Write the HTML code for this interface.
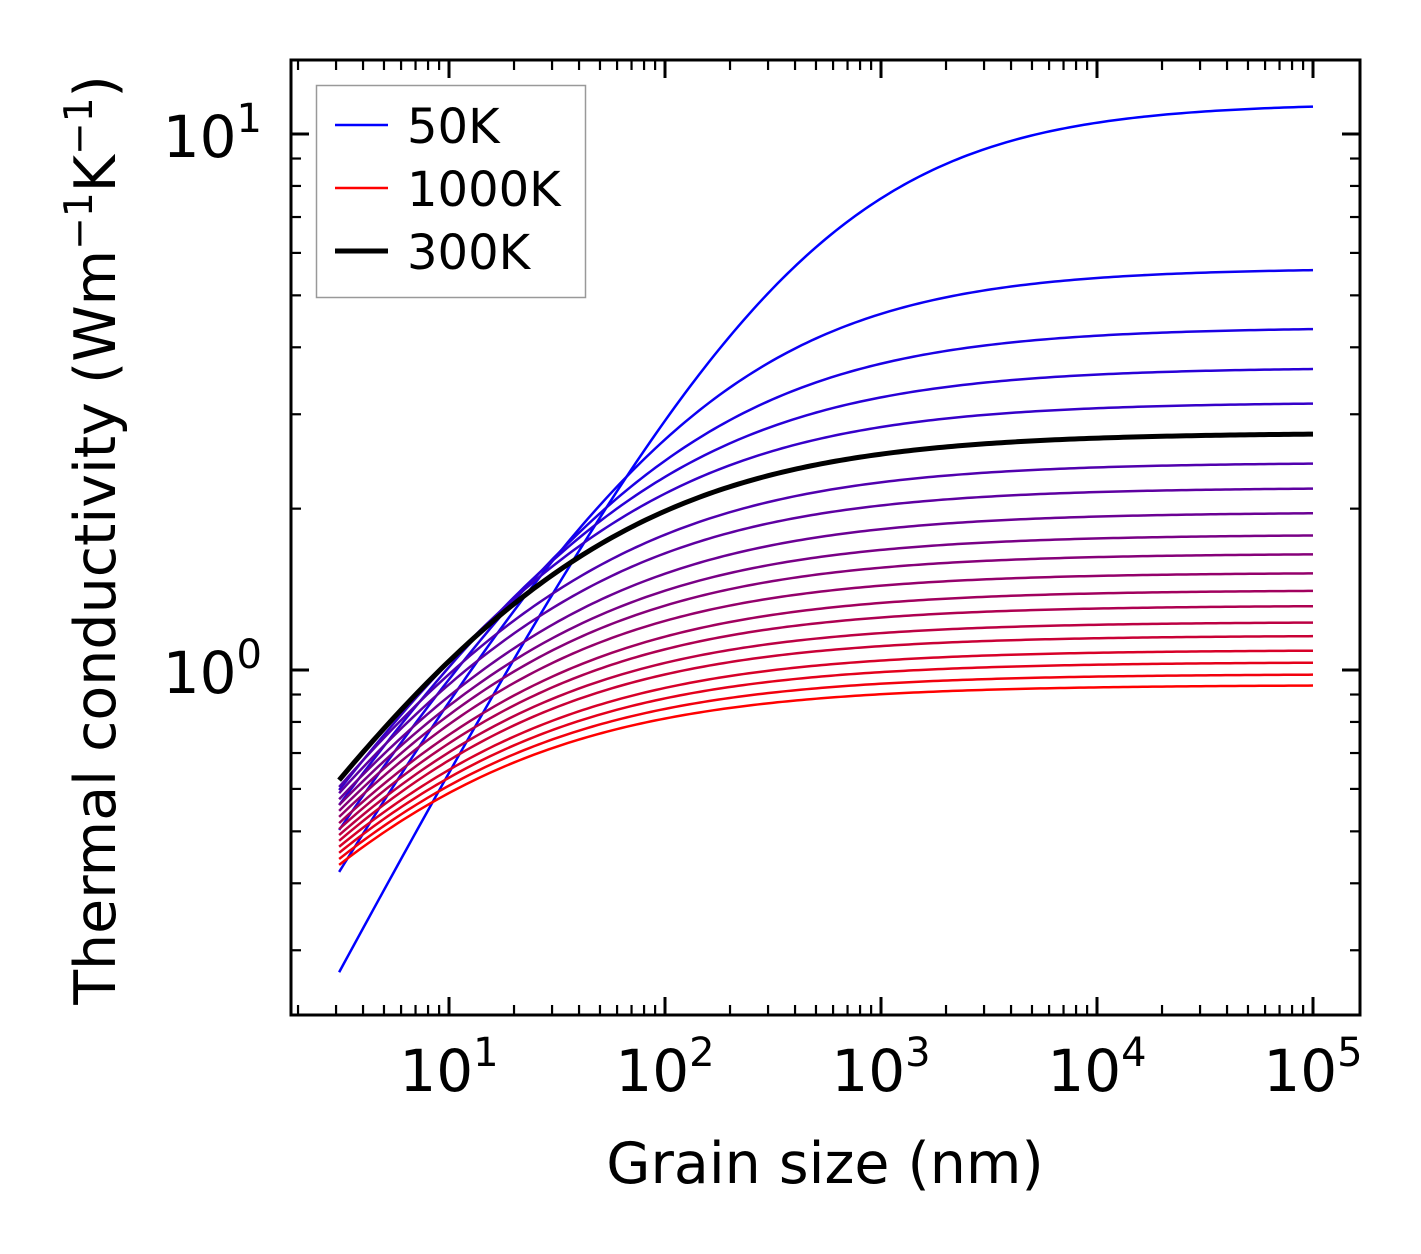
<!DOCTYPE html>
<html><head><meta charset="utf-8"><style>
html,body{margin:0;padding:0;background:#fff;}
svg{display:block;font-family:"DejaVu Sans","Liberation Sans",sans-serif;}
</style></head><body>
<svg id="chart" width="1421" height="1254" viewBox="0 0 1421 1254" xmlns="http://www.w3.org/2000/svg">
<rect x="0" y="0" width="1421" height="1254" fill="#fff"/>
<defs><clipPath id="clip"><rect x="291" y="60" width="1069" height="955"/></clipPath></defs>
<g id="series" clip-path="url(#clip)"></g>
<g id="axes"></g>
<text x="825" y="1183" font-size="57" text-anchor="middle">Grain size (nm)</text>
<text transform="translate(115,540) rotate(-90)" font-size="57" text-anchor="middle">Thermal conductivity (Wm<tspan font-size="39" dy="-23">−1</tspan><tspan dy="23">K</tspan><tspan font-size="39" dy="-23">−1</tspan><tspan dy="23">)</tspan></text>
<g>
<rect x="316.5" y="85.5" width="269" height="212" fill="#fff" stroke="#999" stroke-width="1.5"/>
<line x1="335" y1="125" x2="388" y2="125" stroke="#0000ff" stroke-width="2.5"/>
<text x="407" y="143" font-size="48">50K</text>
<line x1="335" y1="188" x2="388" y2="188" stroke="#ff0000" stroke-width="2.5"/>
<text x="407" y="206" font-size="48">1000K</text>
<line x1="335" y1="251" x2="388" y2="251" stroke="#000" stroke-width="5"/>
<text x="407" y="269" font-size="48">300K</text>
</g>
</svg>
<script>
const temps = [50,100,150,200,250,300,350,400,450,500,550,600,650,700,750,800,850,900,950,1000];
const kInf = [11.42,5.62,4.36,3.67,3.16,2.77,2.44,2.19,1.97,1.79,1.65,1.52,1.41,1.32,1.23,1.16,1.09,1.035,0.983,0.938];
const kStart = [0.273,0.42,0.503,0.56,0.597,0.623,0.605,0.589,0.574,0.56,0.546,0.532,0.518,0.505,0.492,0.48,0.468,0.456,0.444,0.433];
const pExp = [0.76,0.70,0.66,0.64,0.63,0.62,0.61,0.61,0.60,0.60,0.60,0.60,0.59,0.59,0.59,0.59,0.58,0.58,0.58,0.58];
const grainStart = 3.1;
const grainEnd = 1e5;
const xTickLabels = ["1","2","3","4","5"];
const yTickLabels = ["0","1"];

const NS = "http://www.w3.org/2000/svg";
const X0 = 291, X1 = 1360, Y0 = 60, Y1 = 1015;
const xLogMin = 1 - (449 - X0) / 216, xLogMax = 1 + (X1 - 449) / 216;
const yLogMin = -(Y1 - 670) / 536, yLogMax = (670 - Y0) / 536;
function xs(v){ return X0 + (Math.log10(v) - xLogMin) / (xLogMax - xLogMin) * (X1 - X0); }
function ys(v){ return Y1 - (Math.log10(v) - yLogMin) / (yLogMax - yLogMin) * (Y1 - Y0); }
function mk(tag, attrs, parent){ const e = document.createElementNS(NS, tag); for (const k in attrs) e.setAttribute(k, attrs[k]); parent.appendChild(e); return e; }

const sg = document.getElementById('series');
const order = temps.map((t,i)=>i).filter(i=>temps[i]!==300).concat(temps.indexOf(300));
order.forEach(i=>{
  const r = kStart[i] / kInf[i];
  const p = pExp[i];
  const lam = grainStart * Math.pow(1/r - 1, 1/p);
  let d = "";
  const N = 200;
  for (let j=0;j<=N;j++){
    const L = Math.pow(10, Math.log10(grainStart) + j/N*(Math.log10(grainEnd)-Math.log10(grainStart)));
    const k = kInf[i] / (1 + Math.pow(lam/L, p));
    d += (j?"L":"M") + xs(L).toFixed(2) + "," + ys(k).toFixed(2);
  }
  const f = i/(temps.length-1);
  const col = temps[i]===300 ? "#000" : `rgb(${Math.round(255*f)},0,${Math.round(255*(1-f))})`;
  const path = mk('path', {d:d, fill:'none', stroke:col, 'stroke-width': temps[i]===300 ? 5 : 2.5, 'stroke-linejoin':'round'}, sg);
  
  
});

const ax = document.getElementById('axes');
const frame = mk('rect', {x:X0, y:Y0, width:X1-X0, height:Y1-Y0, fill:'none', stroke:'#000', 'stroke-width':3}, ax);



for (let dec=0; dec<=5; dec++){
  for (let m=1; m<=9; m++){
    const v = m*Math.pow(10,dec);
    const x = xs(v);
    if (x < X0+1 || x > X1-1) continue;
    const len = m===1 ? 18 : 10;
    const t1 = mk('line', {x1:x, y1:Y1, x2:x, y2:Y1-len, stroke:'#000', 'stroke-width': m===1?3:2.2}, ax);
    
    
    const t2 = mk('line', {x1:x, y1:Y0, x2:x, y2:Y0+len, stroke:'#000', 'stroke-width': m===1?3:2.2}, ax);
    
    
  }
}
xTickLabels.forEach(s=>{
  const v = Math.pow(10, +s);
  const t = mk('text', {x:xs(v), y:1091, 'font-size':58, 'text-anchor':'middle'}, ax);
  
  
  t.innerHTML = '10<tspan font-size="40" dy="-25">'+s+'</tspan>';
});
for (let dec=-1; dec<=1; dec++){
  for (let m=1; m<=9; m++){
    const v = m*Math.pow(10,dec);
    const y = ys(v);
    if (y < Y0+1 || y > Y1-1) continue;
    const len = m===1 ? 18 : 10;
    const t1 = mk('line', {x1:X0, y1:y, x2:X0+len, y2:y, stroke:'#000', 'stroke-width': m===1?3:2.2}, ax);
    
    
    const t2 = mk('line', {x1:X1, y1:y, x2:X1-len, y2:y, stroke:'#000', 'stroke-width': m===1?3:2.2}, ax);
    
    
  }
}
yTickLabels.forEach(s=>{
  const v = Math.pow(10, +s);
  const t = mk('text', {x:262, y:ys(v)+23, 'font-size':58, 'text-anchor':'end'}, ax);
  
  
  t.innerHTML = '10<tspan font-size="40" dy="-25">'+s+'</tspan>';
});
</script>
</body></html>
